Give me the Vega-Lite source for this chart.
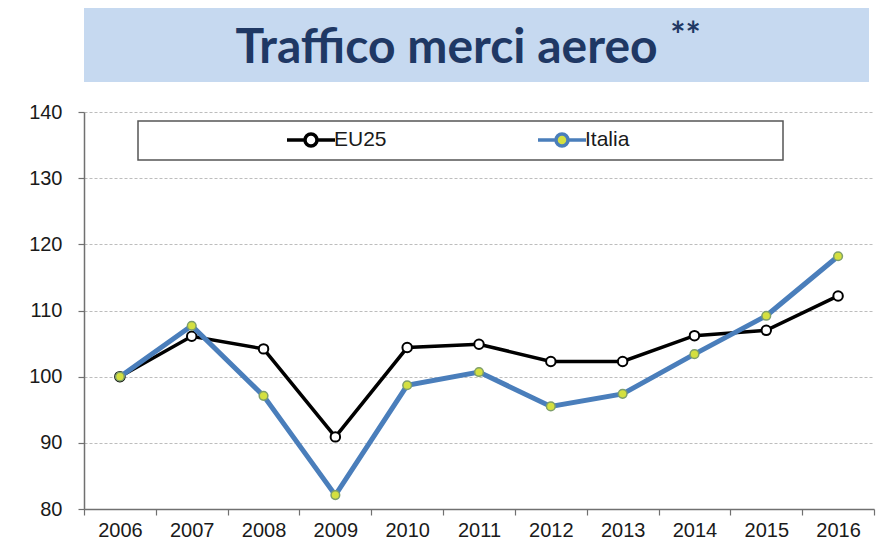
{
  "$schema": "https://vega.github.io/schema/vega-lite/v6.json",
  "padding": {"left": 28, "top": 8, "right": 6, "bottom": 4},
  "background": "white",
  "spacing": 30,
  "bounds": "flush",
  "config": {
    "font": "Liberation Sans",
    "view": {"stroke": null}
  },
  "vconcat": [
    {
      "width": 785,
      "height": 74,
      "view": {"fill": "#c6d9f0", "stroke": null},
      "data": {"values": [{"t": "Traffico merci aereo", "s": "**"}]},
      "layer": [
        {
          "mark": {"type": "text", "font": "Lato", "fontSize": 48, "fontWeight": "bold", "color": "#1f3864", "align": "center", "baseline": "alphabetic", "dx": -30, "dy": 18},
          "encoding": {"text": {"field": "t", "type": "nominal"}}
        },
        {
          "mark": {"type": "text", "font": "Lato", "fontSize": 36, "fontWeight": "bold", "color": "#1f3864", "align": "center", "baseline": "middle", "dx": 209, "dy": -8},
          "encoding": {"text": {"field": "s", "type": "nominal"}}
        }
      ]
    },
    {
      "width": 790,
      "height": 397,
      "data": {"values": [
        {"year": "2006", "series": "EU25", "value": 100},
        {"year": "2007", "series": "EU25", "value": 106.1},
        {"year": "2008", "series": "EU25", "value": 104.2},
        {"year": "2009", "series": "EU25", "value": 90.9},
        {"year": "2010", "series": "EU25", "value": 104.4},
        {"year": "2011", "series": "EU25", "value": 104.9},
        {"year": "2012", "series": "EU25", "value": 102.3},
        {"year": "2013", "series": "EU25", "value": 102.3},
        {"year": "2014", "series": "EU25", "value": 106.2},
        {"year": "2015", "series": "EU25", "value": 107.0},
        {"year": "2016", "series": "EU25", "value": 112.2},
        {"year": "2006", "series": "Italia", "value": 100},
        {"year": "2007", "series": "Italia", "value": 107.7},
        {"year": "2008", "series": "Italia", "value": 97.1},
        {"year": "2009", "series": "Italia", "value": 82.1},
        {"year": "2010", "series": "Italia", "value": 98.7},
        {"year": "2011", "series": "Italia", "value": 100.7},
        {"year": "2012", "series": "Italia", "value": 95.5},
        {"year": "2013", "series": "Italia", "value": 97.4},
        {"year": "2014", "series": "Italia", "value": 103.4},
        {"year": "2015", "series": "Italia", "value": 109.2},
        {"year": "2016", "series": "Italia", "value": 118.2}
      ]},
      "encoding": {
        "x": {
          "field": "year", "type": "ordinal",
          "scale": {"type": "band", "paddingInner": 0, "paddingOuter": 0},
          "axis": {"title": null, "labelAngle": 0, "tickBand": "extent", "tickSize": 6, "tickColor": "#707070", "domainColor": "#707070", "domainWidth": 1.5, "tickWidth": 1.2, "labelFontSize": 20, "labelColor": "#1a1a1a", "labelPadding": 5, "grid": false}
        },
        "y": {
          "field": "value", "type": "quantitative",
          "scale": {"domain": [80, 140], "nice": false, "zero": false},
          "axis": {"title": null, "values": [80, 90, 100, 110, 120, 130, 140], "tickSize": 6, "tickColor": "#707070", "domainColor": "#707070", "domainWidth": 1.5, "tickWidth": 1.2, "labelFontSize": 20, "labelColor": "#1a1a1a", "labelPadding": 16, "grid": true, "gridColor": "#bdbdbd", "gridDash": [3, 2], "gridWidth": 1}
        }
      },
      "layer": [
        {
          "transform": [{"filter": "datum.series === 'EU25'"}],
          "mark": {"type": "line", "strokeWidth": 3.5},
          "encoding": {
            "color": {
              "field": "series", "type": "nominal",
              "scale": {"domain": ["EU25", "Italia"], "range": ["#000000", "#4a7ebb"]},
              "legend": {
                "title": null, "orient": "none", "legendX": 54, "legendY": 113, "direction": "horizontal",
                "fillColor": "white", "strokeColor": "#555555", "padding": 7,
                "symbolType": "M-2.4,0H-0.6M0.6,0H2.4M0.6,0A0.6,0.6,0,1,1,-0.6,0A0.6,0.6,0,1,1,0.6,0",
                "symbolSize": 400, "symbolStrokeWidth": 3.5, "symbolOffset": 154, "labelOffset": 11,
                "labelFontSize": 21, "labelColor": "#1a1a1a", "columnPadding": 9,
                "labelLimit": 400,
                "encode": {
                  "legend": {"update": {"strokeWidth": {"value": 1.5}}},
                  "labels": {"update": {"text": {"signal": "datum.label === 'Italia' ? datum.label + '\u00a0\u00a0\u00a0\u00a0\u00a0\u00a0\u00a0\u00a0\u00a0\u00a0\u00a0\u00a0\u00a0\u00a0\u00a0\u00a0\u00a0\u00a0\u00a0\u00a0\u00a0\u00a0\u00a0\u00a0\u00a0\u200b' : datum.label"}}},
                  "symbols": {"update": {"fill": [{"test": "datum.value === 'Italia'", "value": "#d4e040"}, {"value": "#ffffff"}], "fillOpacity": {"value": 1}, "opacity": {"value": 1}}}
                }
              }
            }
          }
        },
        {
          "transform": [{"filter": "datum.series === 'EU25'"}],
          "mark": {"type": "point", "filled": true, "fill": "#ffffff", "stroke": "#000000", "strokeWidth": 2, "size": 90, "opacity": 1}
        },
        {
          "transform": [{"filter": "datum.series === 'Italia'"}],
          "mark": {"type": "line", "strokeWidth": 5},
          "encoding": {
            "color": {"field": "series", "type": "nominal", "scale": {"domain": ["EU25", "Italia"], "range": ["#000000", "#4a7ebb"]}}
          }
        },
        {
          "transform": [{"filter": "datum.series === 'Italia'"}],
          "mark": {"type": "point", "filled": true, "fill": "#d4e040", "stroke": "#7f9f6a", "strokeWidth": 1.5, "size": 75, "opacity": 1}
        }
      ]
    }
  ]
}
